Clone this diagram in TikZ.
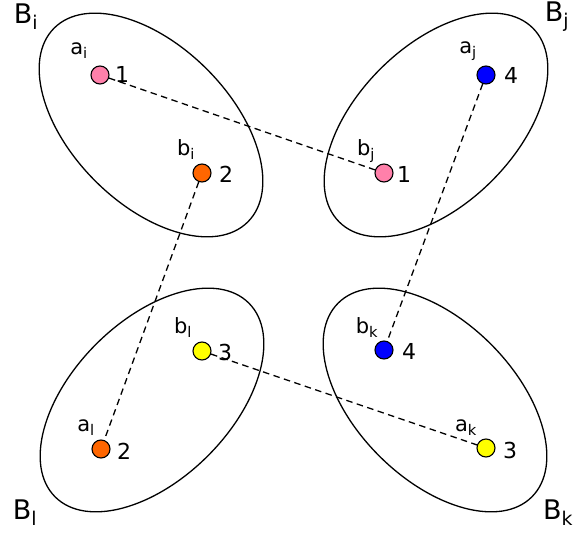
\documentclass[tikz,border=0pt]{standalone}
\usepackage{fontspec}
\setmainfont{DejaVu Sans}
\begin{document}
\begin{tikzpicture}[x=1pt,y=-1pt,
  pt/.style={circle,draw,line width=1.1pt,minimum size=18pt,inner sep=0pt},
  num/.style={font=\fontsize{22}{22}\selectfont,inner sep=0pt},
  lab/.style={font=\fontsize{21}{21}\selectfont,inner sep=0pt},
  big/.style={font=\fontsize{27}{27}\selectfont,inner sep=0pt},
  set/.style={line width=1.3pt},
  link/.style={line width=1.3pt,dash pattern=on 6.5pt off 4.5pt}]
\useasboundingbox (0,0) rectangle (573,534);
\definecolor{pinkc}{RGB}{255,128,170}
\definecolor{orangec}{RGB}{255,102,0}
\definecolor{bluec}{RGB}{0,0,255}
\definecolor{yellowc}{RGB}{255,255,0}
% ellipses
\draw[set,rotate around={-45:(151,125)}] (151,125) ellipse [x radius=137pt, y radius=79pt];
\draw[set,rotate around={45:(436,125)}] (436,125) ellipse [x radius=137pt, y radius=79pt];
\draw[set,rotate around={45:(152,400)}] (152,400) ellipse [x radius=137pt, y radius=79pt];
\draw[set,rotate around={-45:(435,400)}] (435,400) ellipse [x radius=137pt, y radius=79pt];
% set labels
\node[big] (Bi) at (26,17) {B\textsubscript{i}};
\node[big] (Bj) at (557,17) {B\textsubscript{j}};
\node[big] (Bl) at (25,513) {B\textsubscript{l}};
\node[big] (Bk) at (558,513) {B\textsubscript{k}};
% points
\node[pt,fill=pinkc] (ai) at (100,75) {};
\node[pt,fill=orangec] (bi) at (202,173) {};
\node[pt,fill=pinkc] (bj) at (384,173) {};
\node[pt,fill=bluec] (aj) at (486,75) {};
\node[pt,fill=yellowc] (bl) at (202,351) {};
\node[pt,fill=orangec] (al) at (101,449) {};
\node[pt,fill=bluec] (bk) at (384,350) {};
\node[pt,fill=yellowc] (ak) at (486,448) {};
% numbers
\node[num] (nai) at (122,74) {1};
\node[num] (nbi) at (226,174) {2};
\node[num] (nbj) at (404,174) {1};
\node[num] (naj) at (511,75) {4};
\node[num] (nbl) at (225,352) {3};
\node[num] (nal) at (124,451) {2};
\node[num] (nbk) at (409,351) {4};
\node[num] (nak) at (510,450) {3};
% point labels
\node[lab] (lai) at (79,51) {a\textsubscript{i}};
\node[lab] (lbi) at (186,150) {b\textsubscript{i}};
\node[lab] (lbj) at (366,151) {b\textsubscript{j}};
\node[lab] (laj) at (468,51) {a\textsubscript{j}};
\node[lab] (lbl) at (183,328) {b\textsubscript{l}};
\node[lab] (lal) at (86,428) {a\textsubscript{l}};
\node[lab] (lbk) at (367,328) {b\textsubscript{k}};
\node[lab] (lak) at (466,428) {a\textsubscript{k}};
% links
\draw[link] (ai) -- (bj);
\draw[link] (aj) -- (bk);
\draw[link] (bi) -- (al);
\draw[link] (bl) -- (ak);
\end{tikzpicture}
\end{document}
